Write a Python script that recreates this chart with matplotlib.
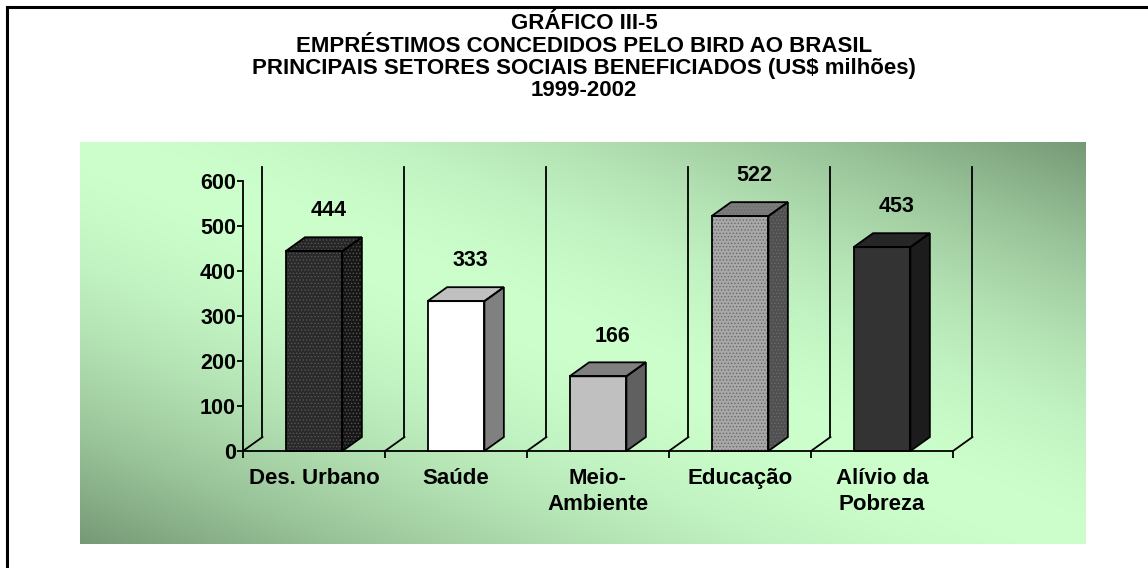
import matplotlib.pyplot as plt
import numpy as np
from matplotlib.patches import Polygon
from matplotlib.lines import Line2D

plt.rcParams['font.family'] = ['Liberation Sans', 'DejaVu Sans']
plt.rcParams['font.weight'] = 'bold'
plt.rcParams['hatch.linewidth'] = 0.6

# Dados do gráfico
categorias = ["Des. Urbano", "Saúde", "Meio-\nAmbiente", "Educação", "Alívio da\nPobreza"]
valores = [444, 333, 166, 522, 453]
marcas_y = [0, 100, 200, 300, 400, 500, 600]
titulo = ["GRÁFICO III-5",
          "EMPRÉSTIMOS CONCEDIDOS PELO BIRD AO BRASIL",
          "PRINCIPAIS SETORES SOCIAIS BENEFICIADOS (US$ milhões)",
          "1999-2002"]

# cores de cada barra: frente, topo, lado, cor da textura (None = liso)
estilos = [("#2a2a2a", "#262626", "#161616", "#555555"),
           ("#ffffff", "#c0c0c0", "#808080", None),
           ("#c0c0c0", "#808080", "#606060", None),
           ("#a8a8a8", "#7c7c7c", "#505050", "#6a6a6a"),
           ("#333333", "#262626", "#1c1c1c", None)]

W, H = 1148, 568
DX, DY = 0.137, 31   # deslocamento da profundidade (efeito 3D)
HW = 0.2             # meia largura da barra


def caixa(x0, y0, x1, y1):
    return [x0 / W, 1 - y1 / H, (x1 - x0) / W, (y1 - y0) / H]


fig = plt.figure(figsize=(W / 100, H / 100), dpi=100)

# fundo verde em degradê
bg = fig.add_axes(caixa(80, 142, 1086, 544))
u, v = np.meshgrid(np.linspace(0, 1, 500), np.linspace(1, 0, 200))
t = np.clip(np.abs(u + v - 1), 0, 1) ** 1.7
claro = np.array([0.80, 1.0, 0.80])
escuro = np.array([0.46, 0.60, 0.46])
bg.imshow(claro + (escuro - claro) * t[..., None], aspect='auto', interpolation='bilinear')
bg.axis('off')

ax = fig.add_axes(caixa(243, 181, 953, 451))
ax.patch.set_visible(False)
ax.set_xlim(-0.5, 4.5)
ax.set_ylim(0, 600)
for s in ('top', 'right'):
    ax.spines[s].set_visible(False)
for s in ('left', 'bottom'):
    ax.spines[s].set_linewidth(1.3)

ax.set_yticks(marcas_y)
ax.tick_params(axis='y', length=4, width=1.3, pad=1, labelsize=15.5)
ax.set_xticks(range(len(categorias)), categorias)
ax.tick_params(axis='x', which='major', length=0, pad=12, labelsize=16)
for lbl in ax.get_xticklabels():
    lbl.set_linespacing(1.35)
limites = np.arange(-0.5, len(categorias), 1)
ax.set_xticks(limites, minor=True)
ax.tick_params(axis='x', which='minor', length=5, width=1.3, direction='out')

# paredes do fundo
for b in limites:
    ax.plot([b, b + DX], [0, DY], color='k', lw=1.3, clip_on=False, zorder=1)
    ax.plot([b + DX, b + DX], [DY, 600 + DY], color='k', lw=1.3, clip_on=False, zorder=1)

# barras 3D
for i, (val, (fr, tp, ld, tx)) in enumerate(zip(valores, estilos)):
    x0, x1 = i - HW, i + HW
    frente = [(x0, 0), (x1, 0), (x1, val), (x0, val)]
    lado = [(x1, 0), (x1 + DX, DY), (x1 + DX, val + DY), (x1, val)]
    topo = [(x0, val), (x1, val), (x1 + DX, val + DY), (x0 + DX, val + DY)]
    for pts, cor in ((frente, fr), (lado, ld), (topo, tp)):
        if tx:
            ax.add_patch(Polygon(pts, closed=True, facecolor=cor, edgecolor=tx, hatch='.....',
                                 lw=0, clip_on=False, zorder=3))
        else:
            ax.add_patch(Polygon(pts, closed=True, facecolor=cor, lw=0, clip_on=False, zorder=3))
        ax.add_patch(Polygon(pts, closed=True, fill=False, edgecolor='k', lw=1.3,
                             clip_on=False, zorder=4))
    ax.annotate(str(val), (i + 0.1, val), xytext=(0, 29), textcoords='offset points',
                ha='center', va='center', fontsize=15.5, fontweight='bold')

# título
for k, linha in enumerate(titulo):
    fig.text(584 / W, 1 - (29 + 22.5 * k) / H, linha, ha='center', va='baseline',
             fontsize=16, fontweight='bold')

# moldura (só topo e esquerda)
fig.add_artist(Line2D([7 / W, 1], [1 - 7 / H, 1 - 7 / H], color='k', lw=2.2,
                      transform=fig.transFigure))
fig.add_artist(Line2D([7 / W, 7 / W], [0, 1 - 7 / H], color='k', lw=2.2,
                      transform=fig.transFigure))

fig.savefig("out.png", dpi=100)
